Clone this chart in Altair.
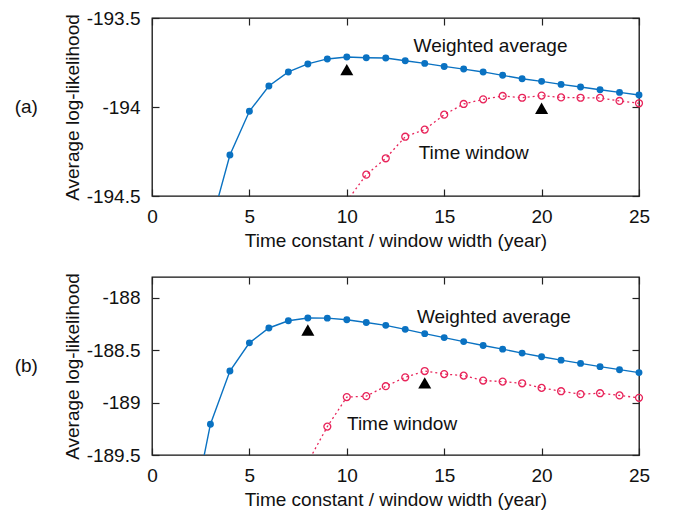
import altair as alt
import pandas as pd

# ---------------- data ----------------
x_ticks = [0, 5, 10, 15, 20, 25]

# panel (a)
a_wa_x = list(range(3, 26))
a_wa_y = [-194.67, -194.27, -194.024, -193.882, -193.803, -193.758, -193.730,
          -193.719, -193.723, -193.725, -193.740, -193.755, -193.772, -193.787,
          -193.803, -193.822, -193.841, -193.856, -193.873, -193.888, -193.903,
          -193.918, -193.933]
a_tw_x = list(range(10, 26))
a_tw_y = [-194.53, -194.380, -194.288, -194.167, -194.127, -194.043, -193.983,
          -193.957, -193.938, -193.948, -193.936, -193.946, -193.948, -193.949,
          -193.966, -193.979]
a_tri_x = [10, 20]
a_tri_y = [-193.79, -194.007]
a_lab_x = [13.43, 13.69]
a_lab_y = [-193.657, -194.257]
a_ydom = [-194.5, -193.5]
a_yticks = [-194.5, -194, -193.5]

# panel (b)
b_wa_x = list(range(2, 26))
b_wa_y = [-190.13, -189.206, -188.698, -188.429, -188.287, -188.218, -188.192,
          -188.193, -188.208, -188.234, -188.262, -188.300, -188.341, -188.379,
          -188.417, -188.454, -188.489, -188.527, -188.562, -188.594, -188.625,
          -188.656, -188.685, -188.713]
b_tw_x = list(range(8, 26))
b_tw_y = [-189.57, -189.229, -188.947, -188.938, -188.843, -188.758, -188.698,
          -188.727, -188.742, -188.789, -188.799, -188.815, -188.859, -188.891,
          -188.919, -188.910, -188.931, -188.954]
b_tri_x = [8, 14]
b_tri_y = [-188.306, -188.812]
b_lab_x = [13.6, 10.01]
b_lab_y = [-188.182, -189.201]
b_ydom = [-189.5, -187.8]
b_yticks = [-189.5, -189, -188.5, -188]

label_texts = ["Weighted average", "Time window"]

FONT = "Liberation Sans"
BLUE = "#0a72c2"
RED = "#e8245a"
FS = 19


def panel(wx, wy, tx, ty, trx, tr_y, lx, ly, ydom, yticks, tag):
    wa = pd.DataFrame({"x": wx, "y": wy})
    tw = pd.DataFrame({"x": tx, "y": ty})
    tri = pd.DataFrame({"x": trx, "y": tr_y})
    labs = pd.DataFrame({"x": lx, "y": ly, "t": label_texts})

    xs = alt.Scale(domain=[0, 25], nice=False, zero=False)
    ys = alt.Scale(domain=ydom, nice=False, zero=False)

    common = dict(labelFont=FONT, titleFont=FONT, labelFontSize=FS, titleFontSize=FS,
                  labelColor="#111", titleColor="#111", titleFontWeight="normal",
                  tickColor="#222", tickWidth=1.2, offset=-7, tickSize=7,
                  domain=False, grid=False)

    x_bottom = alt.X("x:Q", scale=xs, axis=alt.Axis(
        orient="bottom", values=x_ticks, title="Time constant / window width (year)",
        labelPadding=11, titlePadding=5, labelFlush=False, **common))
    y_left = alt.Y("y:Q", scale=ys, axis=alt.Axis(
        orient="left", values=yticks, labelExpr="'' + datum.value",
        title="Average log-likelihood", labelPadding=12, titlePadding=4,
        labelFlush=False, **common))
    x_top = alt.X("x:Q", scale=xs, axis=alt.Axis(
        orient="top", values=x_ticks, labels=False, title=None, **common))
    y_right = alt.Y("y:Q", scale=ys, axis=alt.Axis(
        orient="right", values=yticks, labels=False, title=None, **common))
    xn = alt.X("x:Q", scale=xs, axis=None)
    yn = alt.Y("y:Q", scale=ys, axis=None)

    in_range = (alt.datum.y >= ydom[0]) & (alt.datum.y <= ydom[1])

    wa_line = alt.Chart(wa).mark_line(color=BLUE, strokeWidth=1.4, clip=True).encode(
        x=x_bottom, y=y_left)
    tw_line = alt.Chart(tw).mark_line(color=RED, strokeWidth=1.3, strokeDash=[2, 3],
                                      clip=True).encode(x=x_top, y=y_right)
    wa_pts = alt.Chart(wa).transform_filter(in_range).mark_point(
        filled=True, shape="circle", size=48, color=BLUE, opacity=1).encode(x=xn, y=yn)
    tw_pts = alt.Chart(tw).transform_filter(in_range).mark_point(
        filled=False, shape="circle", size=48, color=RED, strokeWidth=1.3,
        opacity=1).encode(x=xn, y=yn)
    tri_pts = alt.Chart(tri).mark_point(
        filled=True, shape="triangle-up", size=170, color="black", opacity=1).encode(
        x=xn, y=yn)
    text = alt.Chart(labs).mark_text(
        align="left", baseline="middle", fontSize=FS, font=FONT, color="#111").encode(
        x=xn, y=yn, text="t:N")

    return alt.layer(wa_line, tw_line, wa_pts, tw_pts, tri_pts, text).properties(
        width=487, height=178,
        title=alt.TitleParams(text=tag, orient="left", angle=0, anchor="middle",
                              align="right", baseline="middle", offset=2,
                              fontSize=FS, font=FONT, fontWeight="normal",
                              color="#111"))


top = panel(a_wa_x, a_wa_y, a_tw_x, a_tw_y, a_tri_x, a_tri_y, a_lab_x, a_lab_y,
            a_ydom, a_yticks, "(a)")
bottom = panel(b_wa_x, b_wa_y, b_tw_x, b_tw_y, b_tri_x, b_tri_y, b_lab_x, b_lab_y,
               b_ydom, b_yticks, "(b)")

chart = alt.vconcat(top, bottom, spacing=21).properties(
    padding={"left": 6, "top": 0, "right": 5, "bottom": 5},
    background="white"
).configure_view(
    stroke="#111", strokeWidth=1.3
)

chart.save("out.html", embed_options={"renderer": "svg", "actions": False})
